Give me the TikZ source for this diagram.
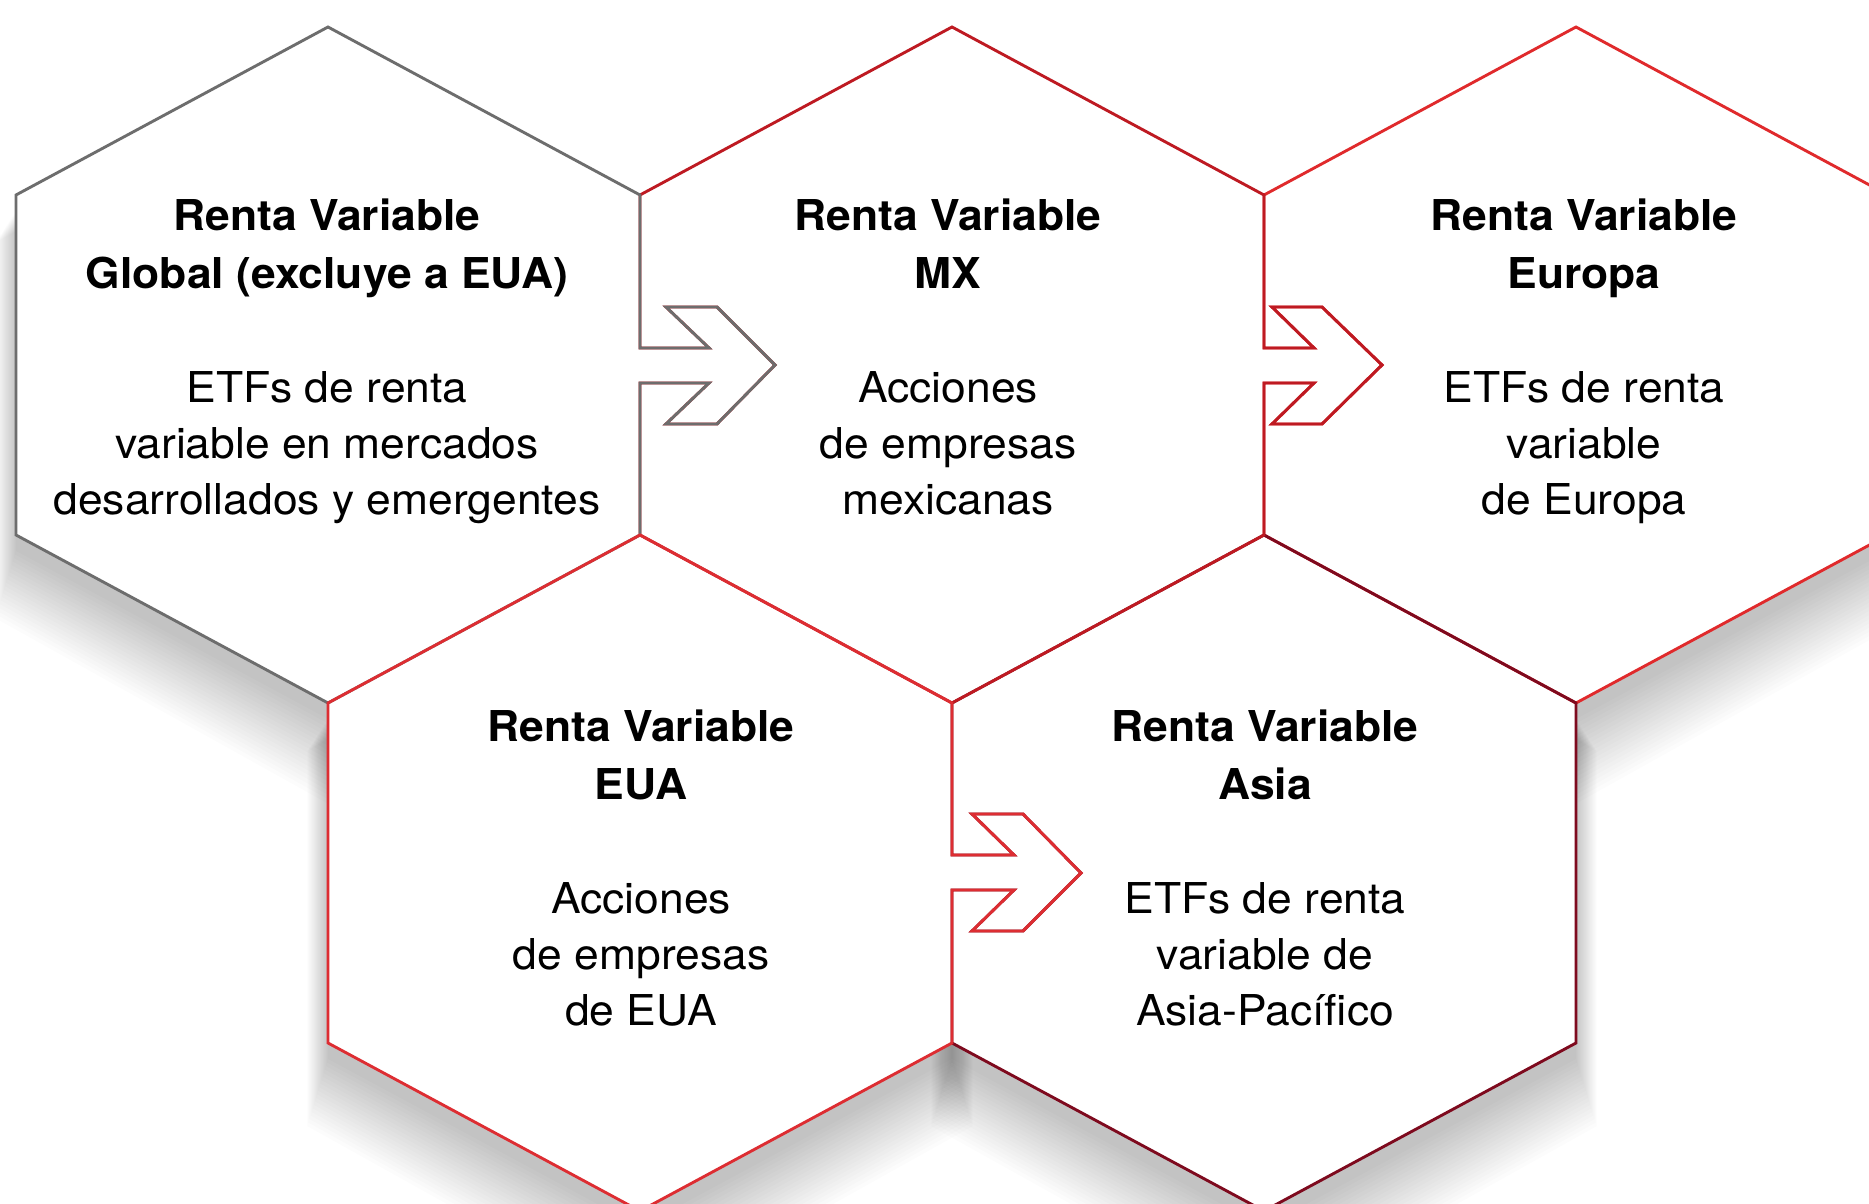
\documentclass[tikz,border=0pt]{standalone}
\usepackage{fontspec}
\setmainfont{TeX Gyre Heros}[FakeStretch=1.045]
\definecolor{cgray}{HTML}{6D6D6D}
\definecolor{cdark}{HTML}{BE1A22}
\definecolor{cbright}{HTML}{E02A2C}
\definecolor{cred}{HTML}{DD2D32}
\definecolor{cmaroon}{HTML}{7E0A1E}
\newcommand\hexshadow[2]{%
  \foreach \i in {0,...,19}{%
    \begin{scope}[shift={(#1,#2+16+2.6*\i)}, xscale={1+0.0035*\i}, yscale={1+0.0055*\i}]
      \fill[black, opacity=0.0105] (0,-338) -- (312,-170) -- (312,170) -- (0,338) -- (-312,170) -- (-312,-170) -- cycle;
    \end{scope}}}
\newcommand\hexfill[2]{%
  \fill[white] (#1,#2-338) -- (#1+312,#2-170) -- (#1+312,#2+170) -- (#1,#2+338) -- (#1-312,#2+170) -- (#1-312,#2-170) -- cycle;}
\newcommand\hexlabel[8]{%
  \node[titletext] (#1a) at (#2,#3) {#4};
  \node[titletext] (#1b) at (#2,#3+57.5) {#5};
  \node[bodytext] (#1c) at (#2,#3+171.5) {#6};
  \node[bodytext] (#1d) at (#2,#3+227.5) {#7};
  \node[bodytext] (#1e) at (#2,#3+283.5) {#8};}
\begin{document}
\begin{tikzpicture}[x=0.4pt,y=-0.4pt,
  edge/.style={line width=1.15pt, line join=miter},
  titletext/.style={anchor=base, inner sep=0pt, font=\fontsize{17}{20}\selectfont\bfseries},
  bodytext/.style={anchor=base, inner sep=0pt, font=\fontsize{17}{20}\selectfont}]
\useasboundingbox (0,0) rectangle (1869,1204);
\clip (0,0) rectangle (1869,1204);
\fill[white] (0,0) rectangle (1869,1204);
% shadows
\hexshadow{328}{365}
\hexshadow{952}{365}
\hexshadow{1576}{365}
\hexshadow{640}{873}
\hexshadow{1264}{873}
% white bodies
\hexfill{328}{365}
\hexfill{952}{365}
\hexfill{1576}{365}
\hexfill{640}{873}
\hexfill{1264}{873}
% outlines (order sets colour of shared edges)
% H3 Europa
\draw[edge, cbright] (1576,27) -- (1888,195) -- (1888,535) -- (1576,703) -- (1264,535)
  -- (1264,383) -- (1314,383) -- (1272,424) -- (1322,424) -- (1382,365) -- (1322,307) -- (1272,307) -- (1314,348) -- (1264,348)
  -- (1264,195) -- cycle;
% H5 Asia
\draw[edge, cmaroon] (1264,535) -- (1576,703) -- (1576,1043) -- (1264,1211) -- (952,1043)
  -- (952,890) -- (1014,890) -- (972,931) -- (1023,931) -- (1081,873) -- (1023,814) -- (972,814) -- (1014,855) -- (952,855)
  -- (952,703) -- cycle;
% H2 MX
\draw[edge, cdark] (952,27) -- (1264,195)
  -- (1264,348) -- (1314,348) -- (1272,307) -- (1322,307) -- (1382,365) -- (1322,424) -- (1272,424) -- (1314,383) -- (1264,383)
  -- (1264,535) -- (952,703) -- (640,535)
  -- (640,383) -- (709,383) -- (666,424) -- (717,424) -- (775,365) -- (717,307) -- (666,307) -- (709,348) -- (640,348)
  -- (640,195) -- cycle;
% H1 Global
\draw[edge, cgray] (328,27) -- (640,195)
  -- (640,348) -- (709,348) -- (666,307) -- (717,307) -- (775,365) -- (717,424) -- (666,424) -- (709,383) -- (640,383)
  -- (640,535) -- (328,703) -- (16,535) -- (16,195) -- cycle;
% H4 EUA
\draw[edge, cred] (640,535) -- (952,703)
  -- (952,855) -- (1014,855) -- (972,814) -- (1023,814) -- (1081,873) -- (1023,931) -- (972,931) -- (1014,890) -- (952,890)
  -- (952,1043) -- (640,1211) -- (328,1043) -- (328,703) -- cycle;
% texts
\hexlabel{g}{327}{231}{Renta Variable}{Global (excluye a EUA)}{ETFs de renta}{variable en mercados}{desarrollados y emergentes}
\hexlabel{m}{948}{231}{Renta Variable}{MX}{Acciones}{de empresas}{mexicanas}
\hexlabel{e}{1584}{231}{Renta Variable}{Europa}{ETFs de renta}{variable}{de Europa}
\hexlabel{u}{641}{742}{Renta Variable}{EUA}{Acciones}{de empresas}{de EUA}
\hexlabel{a}{1265}{742}{Renta Variable}{Asia}{ETFs de renta}{variable de}{Asia-Pacífico}
\end{tikzpicture}
\end{document}
